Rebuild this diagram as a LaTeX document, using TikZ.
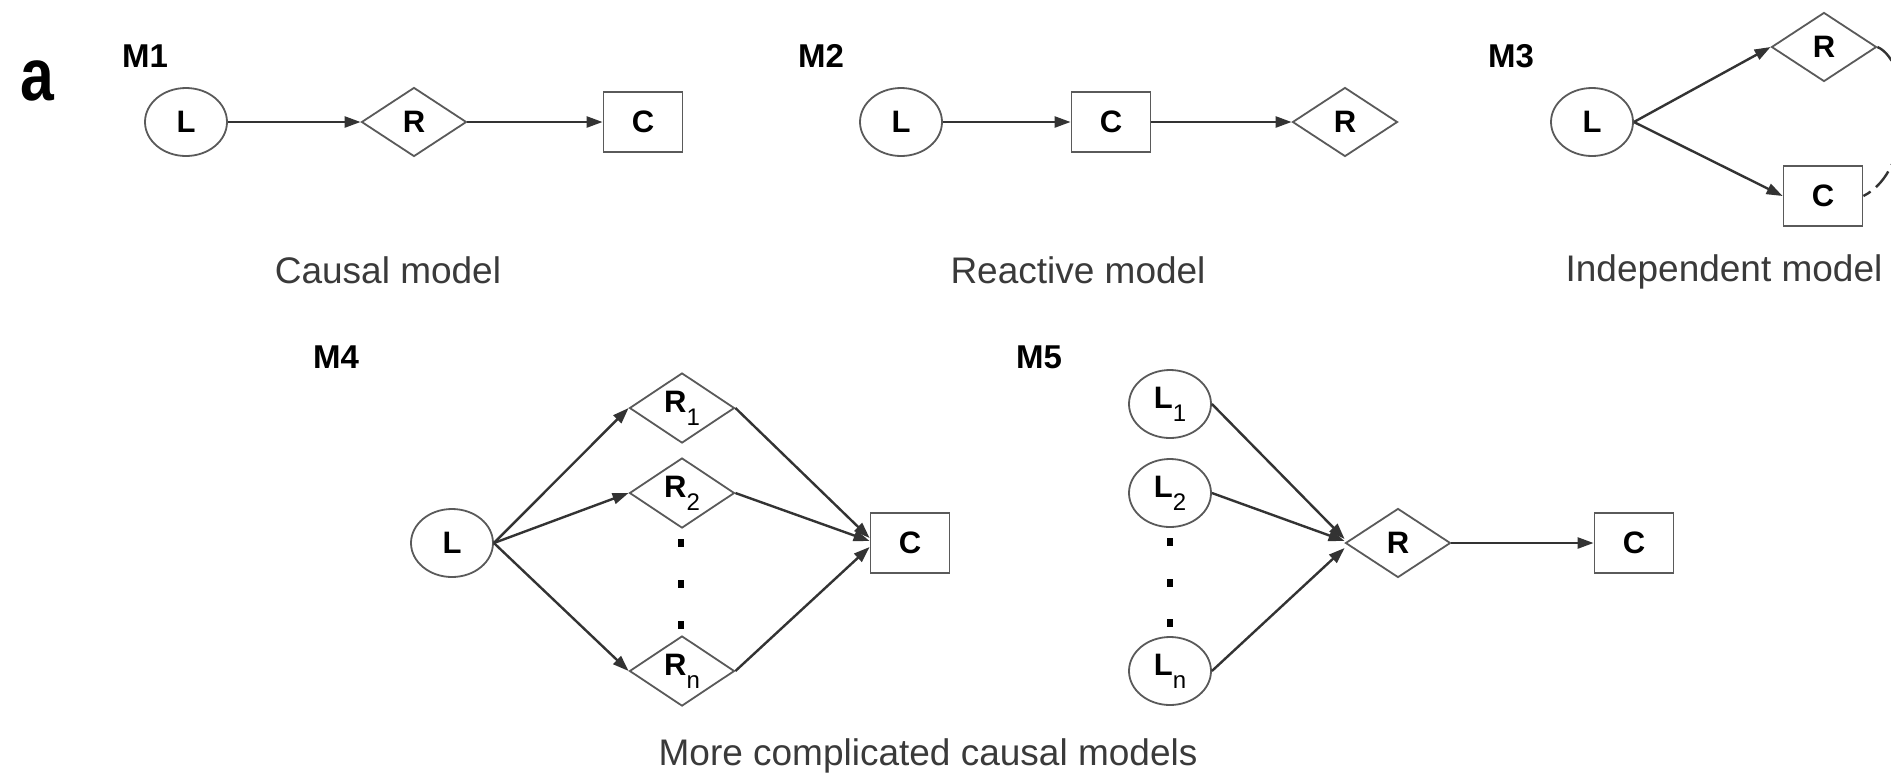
\documentclass[tikz,border=0pt]{standalone}
\usepackage{fontspec}
\setmainfont{Liberation Sans}
\usetikzlibrary{shapes.geometric,arrows.meta}
\definecolor{edgecol}{HTML}{333333}
\definecolor{rimcol}{HTML}{5A5A5A}
\definecolor{captcol}{HTML}{3A3A3A}

\tikzset{
  nodebase/.style={draw=rimcol, line width=1.8pt, inner sep=0pt,
    font=\fontsize{31}{33}\selectfont\bfseries},
  ligand/.style={nodebase, ellipse, minimum width=82pt, minimum height=68pt},
  receptor/.style={nodebase, diamond, minimum width=105pt, minimum height=69pt},
  cellbox/.style={nodebase, rectangle, minimum width=79pt, minimum height=60pt},
  link/.style={draw=edgecol, line width=2.4pt, -{Triangle[length=16pt,width=11pt]}},
  maybe/.style={draw=edgecol, line width=2.4pt, dash pattern=on 20pt off 7pt},
  mlabel/.style={anchor=base west, inner sep=0pt,
    font=\fontsize{33}{36}\selectfont\bfseries},
  caption/.style={anchor=base, inner sep=0pt, text=captcol,
    font=\fontsize{37}{40}\selectfont},
  dot/.style={fill=black},
}
% bold letter with a lowered, regular-weight index
\newcommand{\lsub}[2]{#1\raisebox{-13pt}{\fontsize{24}{24}\selectfont\mdseries #2}}

\begin{document}
\begin{tikzpicture}[x=1pt,y=-1pt]
\useasboundingbox (0,0) rectangle (1891,772);
\clip (0,0) rectangle (1891,772);
\fill[white] (0,0) rectangle (1891,772);

% panel letter
\node[anchor=base west, inner sep=0pt, font=\fontsize{74}{74}\selectfont\bfseries] (panel) at (20,100) {\scalebox{0.82}[1]{a}};

% M1: causal model
\node[mlabel] (m1) at (122,67) {M1};
\node[ligand]   (L1) at (186,122) {L};
\node[receptor] (R1) at (414,122) {R};
\node[cellbox]  (C1) at (643,122) {C};
\draw[link] (L1) -- (R1);
\draw[link] (R1) -- (C1);
\node[caption] (t1) at (388,283) {Causal model};

% M2: reactive model
\node[mlabel] (m2) at (798,67) {M2};
\node[ligand]   (L2) at (901,122) {L};
\node[cellbox]  (C2) at (1111,122) {C};
\node[receptor] (R2) at (1345,122) {R};
\draw[link] (L2) -- (C2);
\draw[link] (C2) -- (R2);
\node[caption] (t2) at (1078,283) {Reactive model};

% M3: independent model
\node[mlabel] (m3) at (1488,67) {M3};
\node[ligand]   (L3) at (1592,122) {L};
\node[receptor] (R3) at (1824,47) {R};
\node[cellbox]  (C3) at (1823,196) {C};
\draw[link] (L3.east) -- (R3.west);
\draw[link] (L3.east) -- (C3.west);
\draw[maybe] (R3.east) .. controls (1912,62) and (1915,170) .. (C3.east);
\node[caption] (t3) at (1724,281) {Independent model};

% M4: several receptors
\node[mlabel] (m4) at (313,368) {M4};
\node[ligand]   (L4)  at (452,543) {L};
\node[receptor] (R4a) at (682,408) {\lsub{R}{1}};
\node[receptor] (R4b) at (682,493) {\lsub{R}{2}};
\node[receptor] (R4n) at (682,671) {\lsub{R}{n}};
\node[cellbox]  (C4)  at (910,543) {C};
\foreach \yy in {543,584,625} \fill[dot] (678,\yy-4) rectangle (684,\yy+4);
\draw[link] (L4.east) -- (R4a.west);
\draw[link] (L4.east) -- (R4b.west);
\draw[link] (L4.east) -- (R4n.west);
\draw[link] (R4a.east) -- ([yshift=5pt]C4.west);
\draw[link] (R4b.east) -- ([yshift=2pt]C4.west);
\draw[link] (R4n.east) -- ([yshift=-4pt]C4.west);

% M5: several ligands
\node[mlabel] (m5) at (1016,368) {M5};
\node[ligand]   (L5a) at (1170,404) {\lsub{L}{1}};
\node[ligand]   (L5b) at (1170,493) {\lsub{L}{2}};
\node[ligand]   (L5n) at (1170,671) {\lsub{L}{n}};
\node[receptor] (R5)  at (1398,543) {R};
\node[cellbox]  (C5)  at (1634,543) {C};
\foreach \yy in {542,583,623} \fill[dot] (1167,\yy-4) rectangle (1173,\yy+4);
\draw[link] (L5a.east) -- ([yshift=4pt]R5.west);
\draw[link] (L5b.east) -- ([yshift=2pt]R5.west);
\draw[link] (L5n.east) -- ([yshift=-5pt]R5.west);
\draw[link] (R5) -- (C5);

\node[caption] (t4) at (928,765) {More complicated causal models};
\end{tikzpicture}
\end{document}
